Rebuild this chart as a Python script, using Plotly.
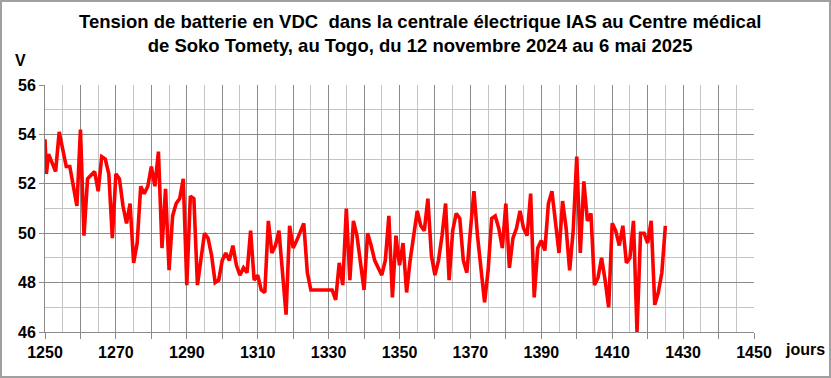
import plotly.graph_objects as go

days = [1250, 1250.4, 1251, 1253, 1254, 1256, 1257, 1258, 1259, 1260, 1261, 1262, 1264, 1265, 1266,
        1267, 1268, 1269, 1270, 1271, 1272, 1273, 1274, 1275, 1276, 1277, 1278, 1279, 1280, 1281,
        1282, 1283, 1284, 1285, 1286, 1287, 1288, 1289, 1290, 1291, 1292, 1293, 1294, 1295, 1296,
        1297, 1298, 1299, 1300, 1301, 1302, 1303, 1304, 1305, 1306, 1307, 1308, 1309, 1310, 1311,
        1312, 1313, 1314, 1315, 1316, 1317, 1318, 1319, 1320, 1321, 1322, 1323, 1324, 1325, 1331,
        1332, 1333, 1334, 1335, 1336, 1337, 1338, 1340, 1341, 1342, 1343, 1345, 1346, 1347, 1348,
        1349, 1350, 1351, 1352, 1353, 1354, 1355, 1356, 1357, 1358, 1359, 1360, 1361, 1362, 1363,
        1364, 1365, 1366, 1367, 1368, 1369, 1370, 1371, 1372, 1373, 1374, 1375, 1376, 1377, 1378,
        1379, 1380, 1381, 1382, 1383, 1384, 1385, 1386, 1387, 1388, 1389, 1390, 1391, 1392, 1393,
        1394, 1395, 1396, 1397, 1398, 1399, 1400, 1401, 1402, 1403, 1404, 1405, 1406, 1407, 1408,
        1409, 1410, 1411, 1412, 1413, 1414, 1415, 1416, 1417, 1418, 1419, 1420, 1421, 1422, 1423,
        1424, 1425]

volts = [53.8, 52.4, 53.2, 52.5, 54.1, 52.7, 52.7, 51.9, 51.1, 54.2, 49.9, 52.2, 52.5, 51.7, 53.1,
         53.0, 52.4, 49.8, 52.4, 52.2, 51.1, 50.4, 51.2, 48.8, 49.6, 51.9, 51.6, 51.9, 52.7, 51.9,
         53.3, 49.4, 51.8, 48.5, 50.7, 51.2, 51.4, 52.2, 47.9, 51.5, 51.4, 47.9, 49.1, 50.0, 49.8,
         49.1, 48.0, 48.1, 48.9, 49.2, 48.9, 49.5, 48.7, 48.3, 48.6, 48.4, 50.1, 48.1, 48.3, 47.7,
         47.6, 50.5, 49.2, 49.5, 50.1, 48.4, 46.7, 50.3, 49.4, 49.7, 50.1, 50.4, 48.4, 47.7, 47.7,
         47.3, 48.8, 47.9, 51.0, 48.1, 50.5, 49.9, 47.7, 50.0, 49.5, 48.9, 48.3, 48.9, 50.7, 47.4,
         49.9, 48.7, 49.6, 47.6, 48.9, 49.8, 50.9, 50.3, 50.1, 51.4, 49.1, 48.3, 48.9, 49.9, 51.2,
         48.1, 50.1, 50.8, 50.6, 48.9, 48.4, 50.1, 51.7, 49.9, 48.4, 47.2, 48.5, 50.6, 50.7, 50.2,
         49.4, 51.2, 48.6, 49.8, 50.2, 50.9, 50.2, 49.9, 51.6, 47.4, 49.4, 49.7, 49.3, 51.2, 51.7,
         50.5, 49.2, 51.3, 50.2, 48.5, 50.1, 53.1, 49.2, 52.1, 50.5, 50.8, 47.9, 48.2, 49.0, 48.1,
         47.0, 50.4, 50.1, 49.5, 50.3, 48.8, 49.0, 50.5, 46.0, 50.0, 50.0, 49.6, 50.5, 47.1, 47.6,
         48.4, 50.3]

x_ticks = list(range(1250, 1451, 10))
x_ticktext = [str(v) if (v - 1250) % 20 == 0 else "" for v in x_ticks]
y_ticks = [46, 48, 50, 52, 54, 56]

title_text = ("Tension de batterie en VDC  dans la centrale électrique IAS au Centre médical<br>"
              "de Soko Tomety, au Togo, du 12 novembre 2024 au 6 mai 2025")

W, H = 831, 378
L, R, T, B = 45, 77, 85, 46
pw, ph = W - L - R, H - T - B

def px2x(px):
    return (px - L) / pw

def py2y(py):
    return (H - B - py) / ph

FONT = "Liberation Sans, Arial, sans-serif"
dark = "#8a8a8a"
light = "#c4c4c4"

fig = go.Figure()
fig.add_trace(go.Scatter(x=days, y=volts, mode="lines",
                         line=dict(color="#ff0000", width=3.6), cliponaxis=True,
                         hoverinfo="x+y"))

fig.update_layout(
    width=W, height=H,
    margin=dict(l=L, r=R, t=T, b=B),
    paper_bgcolor="white", plot_bgcolor="white",
    showlegend=False,
    xaxis=dict(range=[1250, 1450], tickmode="array", tickvals=x_ticks, ticktext=x_ticktext,
               showgrid=True, gridcolor=dark, gridwidth=1,
               ticks="outside", ticklen=6, tickcolor=dark,
               showline=True, linecolor=dark, linewidth=1, mirror=False,
               zeroline=False,
               tickfont=dict(family=FONT, size=16, color="black", weight="bold"),
               minor=dict(dtick=5, showgrid=True, gridcolor=light, gridwidth=1, ticks="")),
    yaxis=dict(range=[46, 56], tickmode="array", tickvals=y_ticks,
               showgrid=True, gridcolor=dark, gridwidth=1,
               ticks="outside", ticklen=5, tickcolor=dark,
               showline=True, linecolor=dark, linewidth=1,
               zeroline=False,
               tickfont=dict(family=FONT, size=16, color="black", weight="bold"),
               minor=dict(dtick=1, showgrid=True, gridcolor=light, gridwidth=1, ticks="")),
    annotations=[
        dict(text=title_text, xref="paper", yref="paper", x=px2x(420), y=py2y(34),
             xanchor="center", yanchor="middle", showarrow=False, align="center",
             font=dict(family=FONT, size=18.5, color="black", weight="bold")),
        dict(text="V", xref="paper", yref="paper", x=px2x(20), y=py2y(60),
             xanchor="center", yanchor="middle", showarrow=False,
             font=dict(family=FONT, size=16, color="black", weight="bold")),
        dict(text="jours", xref="paper", yref="paper", x=px2x(805), y=py2y(349),
             xanchor="center", yanchor="middle", showarrow=False,
             font=dict(family=FONT, size=16, color="black", weight="bold")),
    ],
    shapes=[
        dict(type="rect", xref="paper", yref="paper",
             x0=px2x(1), x1=px2x(830), y0=py2y(377), y1=py2y(1),
             line=dict(color="#a0a0a0", width=2), fillcolor="rgba(0,0,0,0)", layer="below"),
    ],
)

fig.write_html("out.html", config={"displayModeBar": False},
               post_script="document.body.style.margin='0px';document.body.style.overflow='hidden';")
